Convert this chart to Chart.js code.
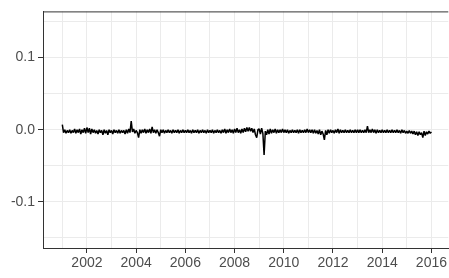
<!DOCTYPE html>
<html lang="en">
<head>
    <meta charset="UTF-8">
    <title>chartjs</title>
    <style>
        html, body { margin: 0; padding: 0; background: #fff; }
        #box { width: 449px; height: 278px; }
    </style>
</head>
<body>
    <div id="box">
        <canvas id="myChart"></canvas>
    </div>
    <script src="https://cdn.jsdelivr.net/npm/chart.js"></script>
    <script>
        // one observation every 0.05 year, starting at 2001.00
        var startYear = 2001;
        var stepYear = 0.05;
        var retornos = [
            // 2001
            0.007, -0.004, 0.000, -0.005, -0.001, -0.004, 0.000, -0.005, -0.001, -0.004, 0.001, -0.005, 0.000, -0.004, 0.001, -0.006, 0.000, -0.004, 0.002, -0.005,
            // 2002
            0.003, -0.004, 0.002, -0.006, 0.001, -0.004, 0.000, -0.005, -0.001, -0.006, 0.000, -0.004, -0.001, -0.007, 0.000, -0.005, -0.001, -0.007, 0.000, -0.004,
            // 2003
            -0.001, -0.006, 0.000, -0.004, -0.001, -0.005, 0.000, -0.005, -0.001, -0.004, -0.001, -0.006, 0.000, -0.005, 0.001, -0.004, 0.012, -0.003, 0.001, -0.005,
            // 2004
            -0.001, -0.004, -0.011, 0.000, -0.005, 0.000, -0.004, 0.001, -0.005, 0.000, -0.004, 0.001, -0.005, 0.004, -0.004, 0.000, -0.005, 0.000, -0.004, -0.009,
            // 2005
            0.000, -0.004, 0.000, -0.005, -0.001, -0.004, 0.000, -0.004, -0.001, -0.005, 0.000, -0.004, -0.001, -0.004, 0.000, -0.005, -0.001, -0.004, 0.000, -0.004,
            // 2006
            -0.001, -0.004, 0.000, -0.004, -0.001, -0.005, 0.000, -0.004, -0.001, -0.004, 0.000, -0.005, -0.001, -0.004, 0.000, -0.004, -0.001, -0.005, 0.000, -0.004,
            // 2007
            -0.001, -0.004, 0.000, -0.005, -0.001, -0.004, 0.000, -0.004, -0.001, -0.005, 0.000, -0.004, 0.001, -0.005, 0.000, -0.004, 0.001, -0.004, 0.000, -0.005,
            // 2008
            0.001, -0.004, 0.002, -0.004, 0.000, -0.005, 0.001, -0.004, 0.002, -0.003, 0.003, -0.002, 0.003, -0.002, 0.002, -0.004, 0.001, -0.007, -0.011, 0.000,
            // 2009
            0.001, -0.006, 0.002, -0.005, -0.035, -0.002, -0.007, 0.000, -0.006, 0.001, -0.005, 0.000, -0.004, 0.001, -0.005, 0.000, -0.004, 0.000, -0.004, 0.001,
            // 2010
            -0.004, 0.000, -0.004, 0.000, -0.005, -0.001, -0.004, 0.000, -0.004, -0.001, -0.004, 0.000, -0.005, 0.000, -0.004, -0.001, -0.004, 0.000, -0.004, 0.001,
            // 2011
            -0.004, 0.000, -0.004, 0.000, -0.005, 0.000, -0.005, -0.001, -0.006, 0.000, -0.007, -0.002, -0.006, -0.014, -0.001, -0.007, 0.000, -0.005, 0.000, -0.004,
            // 2012
            -0.001, -0.005, 0.000, -0.004, 0.001, -0.005, 0.000, -0.004, -0.001, -0.004, 0.000, -0.004, -0.001, -0.004, 0.000, -0.004, -0.001, -0.004, 0.000, -0.004,
            // 2013
            0.000, -0.004, 0.000, -0.004, -0.001, -0.004, 0.000, -0.004, 0.005, -0.004, 0.000, -0.004, 0.001, -0.004, 0.000, -0.005, 0.000, -0.004, -0.001, -0.004,
            // 2014
            0.000, -0.004, -0.001, -0.004, 0.000, -0.004, -0.001, -0.004, 0.000, -0.004, -0.001, -0.004, 0.000, -0.004, -0.001, -0.005, 0.000, -0.004, -0.001, -0.005,
            // 2015
            -0.002, -0.005, -0.001, -0.005, -0.002, -0.006, -0.002, -0.007, -0.003, -0.008, -0.003, -0.007, -0.004, -0.011, -0.002, -0.008, -0.003, -0.006, -0.002, -0.005,
            // 2016
            -0.003
        ];

        var anosTicks = [2001, 2002, 2003, 2004, 2005, 2006, 2007, 2008, 2009, 2010, 2011, 2012, 2013, 2014, 2015, 2016];
        var anosLabels = [2002, 2004, 2006, 2008, 2010, 2012, 2014, 2016];
        var yTicks = [-0.15, -0.1, -0.05, 0, 0.05, 0.1, 0.15];
        var yLabels = [-0.1, 0, 0.1];

        var pontos = [];
        for (var i = 0; i < retornos.length; i++) {
            pontos.push({ x: startYear + i * stepYear, y: retornos[i] });
        }

        var borda = {
            id: "borda",
            afterDraw: function (chart) {
                var ctx = chart.ctx;
                var a = chart.chartArea;
                ctx.save();
                ctx.strokeStyle = "#333333";
                ctx.lineWidth = 1;
                ctx.beginPath();
                ctx.moveTo(a.left, a.top + 0.5);
                ctx.lineTo(a.right, a.top + 0.5);
                ctx.stroke();
                ctx.restore();
            }
        };

        function ehLabel(lista, v) {
            for (var i = 0; i < lista.length; i++) {
                if (Math.abs(lista[i] - v) < 1e-9) return true;
            }
            return false;
        }

        var fonte = { family: "Arial, 'Liberation Sans', sans-serif", size: 14 };

        var config = {
            type: "line",
            data: {
                datasets: [{
                    data: pontos,
                    borderColor: "#000000",
                    borderWidth: 1.5,
                    borderJoinStyle: "bevel",
                    pointRadius: 0,
                    tension: 0,
                    fill: false
                }]
            },
            options: {
                responsive: true,
                maintainAspectRatio: false,
                animation: false,
                layout: { padding: { top: 9, right: 0, left: 0, bottom: 0 } },
                plugins: {
                    legend: { display: false },
                    tooltip: { enabled: false }
                },
                scales: {
                    x: {
                        type: "linear",
                        min: 2000.215,
                        max: 2016.686,
                        afterBuildTicks: function (scale) {
                            scale.ticks = anosTicks.map(function (v) { return { value: v }; });
                        },
                        afterFit: function (scale) { scale.height = 30; },
                        border: { display: true, color: "#333333", width: 1 },
                        grid: {
                            color: "#EBEBEB",
                            lineWidth: 1,
                            tickLength: 5,
                            tickColor: function (c) {
                                return ehLabel(anosLabels, c.tick.value) ? "#333333" : "rgba(0,0,0,0)";
                            }
                        },
                        ticks: {
                            autoSkip: false,
                            maxRotation: 0,
                            padding: 2,
                            color: "#4D4D4D",
                            font: fonte,
                            callback: function (v) {
                                return ehLabel(anosLabels, v) ? String(v) : "";
                            }
                        }
                    },
                    y: {
                        type: "linear",
                        min: -0.164,
                        max: 0.164,
                        afterBuildTicks: function (scale) {
                            scale.ticks = yTicks.map(function (v) { return { value: v }; });
                        },
                        afterFit: function (scale) { scale.width = 43; },
                        border: { display: true, color: "#333333", width: 1 },
                        grid: {
                            color: "#EBEBEB",
                            lineWidth: 1,
                            tickLength: 5,
                            tickColor: function (c) {
                                return ehLabel(yLabels, c.tick.value) ? "#333333" : "rgba(0,0,0,0)";
                            }
                        },
                        ticks: {
                            autoSkip: false,
                            padding: 3,
                            color: "#4D4D4D",
                            font: fonte,
                            callback: function (v) {
                                return ehLabel(yLabels, v) ? v.toFixed(1) : "";
                            }
                        }
                    }
                }
            },
            plugins: [borda]
        };

        new Chart(document.getElementById("myChart"), config);
    </script>
</body>
</html>
